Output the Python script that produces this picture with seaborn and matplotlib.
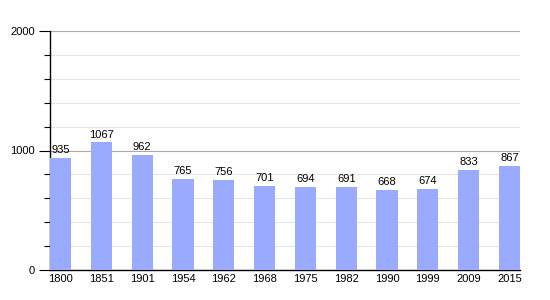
import matplotlib
matplotlib.use("Agg")
import matplotlib.pyplot as plt
import seaborn as sns
import pandas as pd
from matplotlib.ticker import MultipleLocator

years = ["1800", "1851", "1901", "1954", "1962", "1968", "1975", "1982", "1990", "1999", "2009", "2015"]
population = [935, 1067, 962, 765, 756, 701, 694, 691, 668, 674, 833, 867]

df = pd.DataFrame({"year": years, "pop": population})

sns.set_style("white")
plt.rcParams['font.family'] = ['Liberation Sans', 'DejaVu Sans']

fig = plt.figure(figsize=(5.5, 3), dpi=100)
ax = fig.add_axes([50/550, 30/300, 470/550, 239/300])

sns.barplot(data=df, x="year", y="pop", color="#9aabff", saturation=1, width=0.52,
            linewidth=0, edgecolor="none", ax=ax, zorder=3)

ax.set_xlim(-0.26, 11.26)
ax.set_ylim(0, 2000)
ax.yaxis.set_major_locator(MultipleLocator(1000))
ax.yaxis.set_minor_locator(MultipleLocator(200))
ax.grid(axis="y", which="minor", color="#e6e6e6", linewidth=0.8, zorder=0)
ax.grid(axis="y", which="major", color="#aaaaaa", linewidth=0.8, zorder=0)
ax.set_axisbelow(True)

for s in ["top", "right"]:
    ax.spines[s].set_visible(False)
ax.spines["left"].set_color("black")
ax.spines["bottom"].set_color("black")
ax.spines["left"].set_linewidth(1)
ax.spines["bottom"].set_linewidth(1)

ax.tick_params(axis="y", which="major", length=8, width=0.8, labelsize=8, pad=3, left=True,
               color="black", labelcolor="black")
ax.tick_params(axis="y", which="minor", length=4, width=0.8, left=True, color="black")
ax.tick_params(axis="x", length=0, labelsize=8, pad=3, labelcolor="black")
ax.set_xlabel("")
ax.set_ylabel("")

for i, v in enumerate(population):
    ax.text(i, v + 25, str(v), ha="center", va="bottom", fontsize=8, color="black", zorder=4)

fig.savefig("out.png", dpi=100)
